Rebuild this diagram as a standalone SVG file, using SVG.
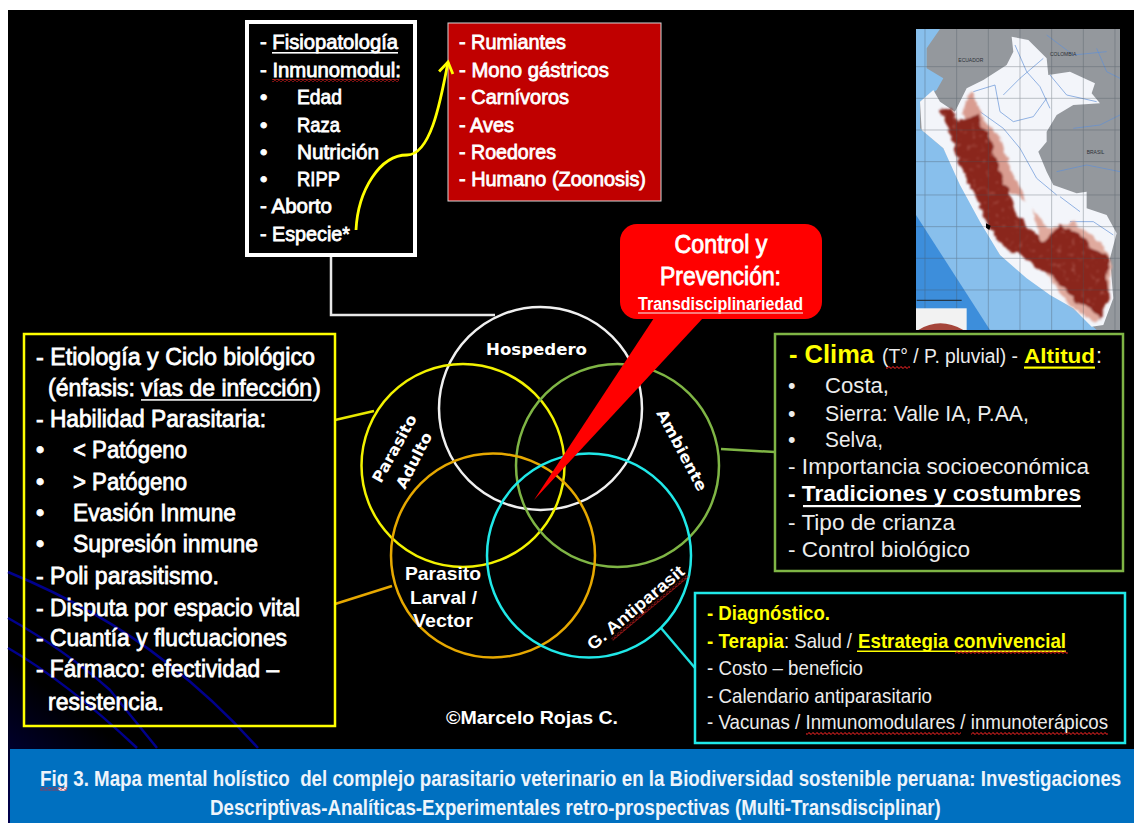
<svg xmlns="http://www.w3.org/2000/svg" width="1134" height="823" viewBox="0 0 1134 823">
<style>
text{font-family:"Liberation Sans",Arial,sans-serif;fill:#fff;font-weight:bold}
.b{font-size:21px;font-weight:normal;stroke:#fff;stroke-width:.8px}
.y{font-size:23.5px;font-weight:normal;stroke:#fff;stroke-width:.8px}
.g{font-size:21.5px;font-weight:normal;fill:#ececec}
.c{font-size:21px;font-weight:normal;fill:#ececec}
.cb{font-size:21px;fill:#ff0}
.v{font-family:"DejaVu Sans",sans-serif;font-size:15.5px}
.l{font-size:19px}
.cap{font-size:21.5px;fill:#eef4fb}
.ctl{font-size:25px;font-weight:normal;stroke:#fff;stroke-width:.8px}
.box{fill:none}
.conn{fill:none;stroke-width:2.5}
.circ{fill:none;stroke-width:2.5}
.sq{fill:url(#sq)}
.rv{fill:none;stroke:#5f8fd6;stroke-width:2}
.gr{stroke:#47525c;stroke-width:2;opacity:.5}
.mt{fill:#2c3036;font-weight:normal;font-size:15px}
</style>
<defs>
<pattern id="sq" width="4" height="3" patternUnits="userSpaceOnUse"><path d="M0,1.5 Q1,0 2,1.5 T4,1.5" fill="none" stroke="#e02020" stroke-width="1.1"/></pattern>
<marker id="ah" markerUnits="userSpaceOnUse" markerWidth="18" markerHeight="18" refX="12" refY="8" orient="auto"><path d="M1,1 L12,8 L1,15" fill="none" stroke="#ff0" stroke-width="2.8"/></marker>
<linearGradient id="bgl" x1="0" y1="1" x2="0.3" y2="0.6"><stop offset="0" stop-color="#000050"/><stop offset="1" stop-color="#000"/></linearGradient>
<filter id="bl" x="-5%" y="-5%" width="110%" height="110%"><feGaussianBlur stdDeviation="2"/></filter>
<filter id="rough" x="-5%" y="-5%" width="110%" height="110%"><feTurbulence type="fractalNoise" baseFrequency="0.035" numOctaves="2" seed="7" result="n"/><feDisplacementMap in="SourceGraphic" in2="n" scale="24" xChannelSelector="R" yChannelSelector="G"/><feGaussianBlur stdDeviation="2.5"/></filter>
<filter id="spk" x="0" y="0" width="100%" height="100%"><feTurbulence type="fractalNoise" baseFrequency="0.07" numOctaves="2" seed="4" result="n"/><feColorMatrix in="n" type="matrix" values="0 0 0 0 .78 0 0 0 0 .42 0 0 0 0 .38 3 0 0 0 -1.8"/><feComposite in2="SourceAlpha" operator="in"/><feGaussianBlur stdDeviation="2.500"/></filter>
<clipPath id="mc"><rect x="48" y="42" width="612" height="903"/></clipPath>
</defs>
<rect id="page" width="1134" height="823" fill="#fff"/>
<rect id="bg" x="8" y="10" width="1126" height="813" fill="#000"/>
<rect x="8" y="560" width="260" height="263" fill="url(#bgl)"/>
<g id="streaks" fill="none" stroke="#00008c" stroke-width="2.5">
<path d="M8,572 Q100,610 167,663 Q215,700 258,748"/>
<path d="M8,618 Q65,650 110,690 L157,748"/>
<path d="M8,648 Q67,682 137,748"/>
</g>

<g id="map" transform="translate(900,15) scale(.3333)">
<g clip-path="url(#mc)"><g filter="url(#bl)">
<rect x="48" y="42" width="612" height="903" fill="#88bfec"/>
<path d="M48,600L270,945H48Z" fill="#3e8edb"/>
<path d="M120,42H660V945H590L520,880L300,720L130,400L60,340L60,260L110,225L130,190L80,160L80,100Z" fill="#94989d"/>
<path d="M335,65L385,75L440,130L445,180L510,170L585,205L575,235L600,265L520,270L470,300L440,350L440,380L415,410L440,470L460,510L530,535L560,530L560,580L620,600L650,655L630,730L640,850L610,930L575,935L520,880L450,840L380,790L300,720L240,620L180,510L130,400L65,345L60,260L100,225L120,260L165,290L200,220L250,195L320,150L340,110Z" fill="#f3f5fa"/>
<g class="rv"><path d="M345,90L380,170L420,215L450,280"/><path d="M220,230L285,210L300,290L340,320L400,305L440,250"/><path d="M240,290L310,340L360,400L410,490L470,540"/><path d="M430,130L360,190L310,240"/><path d="M450,180L500,240L590,260"/><path d="M510,620L580,620L640,660"/><path d="M480,545L540,590"/><path d="M590,100L620,170L660,190"/><path d="M440,60L520,120L620,110"/><path d="M520,340L600,330L660,300"/><path d="M470,470L560,450L660,470"/></g>
</g>
<g filter="url(#rough)">
<path d="M185,290L215,225L240,300L300,370L335,470L380,560L300,510L240,400Z" fill="#d99c90"/>
<path d="M400,580L440,640L520,620L600,680L635,735L625,860L590,925L520,880L440,780Z" fill="#e0aa9e"/>
<path id="andes" d="M120,285L150,280L175,320L230,300L260,350L285,420L300,470L330,540L345,590L390,640L430,680L480,630L530,650L580,700L630,730L620,790L630,850L600,915L570,880L530,860L450,780L370,730L300,690L260,620L225,540L180,450L160,390L145,340Z" fill="#8a261e"/>
</g>
<path d="M130,295L150,290L175,330L225,310L255,355L280,425L295,475L325,545L340,595L385,645L430,690L480,640L530,660L575,705L620,735L610,790L620,845L598,905L570,870L530,850L450,770L375,720L305,680L265,615L230,535L185,445L165,385L150,335Z" fill="#000" filter="url(#spk)" opacity=".45"/>
<g class="gr"><path d="M48,155H660M48,250H660M48,345H660M48,440H660M48,540H660M48,635H660M48,730H660M48,825H660M75,42V945M170,42V945M265,42V945M360,42V945M455,42V945M550,42V945M645,42V945"/></g>
<path d="M258,625L272,632L268,645L258,638Z" fill="#000"/>
<rect x="48" y="880" width="152" height="65" fill="#f2f2f2"/>
<path d="M55,945Q120,905 190,945Z" fill="#a5453a"/>
<path d="M50,856H185" stroke="#222" stroke-width="3"/>
<text x="175" y="140" class="mt">ECUADOR</text>
<text x="450" y="122" class="mt">COLOMBIA</text>
<text x="560" y="418" class="mt">BRASIL</text>
</g></g>

<g id="connectors">
<path class="conn" stroke="#e8e8e8" d="M331,257V315H495"/>
<path class="conn" stroke="#e8e800" d="M335,420L374,411"/>
<path class="conn" stroke="#7fb545" d="M721,449L775,452"/>
<path class="conn" stroke="#e6a800" d="M335,604L392,586"/>
<path class="conn" stroke="#20e0e0" d="M661,628L695,668"/>
</g>

<g id="circles">
<circle id="c-hospedero" class="circ" cx="540.5" cy="408.5" r="101.5" stroke="#f0f0f0"/>
<circle id="c-adulto" class="circ" cx="463" cy="465.5" r="101.5" stroke="#f2f200"/>
<circle id="c-ambiente" class="circ" cx="617.5" cy="465.5" r="101.5" stroke="#7fb545"/>
<circle id="c-larval" class="circ" cx="493" cy="555.5" r="102" stroke="#e6a800"/>
<circle id="c-antip" class="circ" cx="589" cy="555.5" r="102" stroke="#20e8e8"/>
</g>

<g id="node-fisio">
<rect class="box" x="247" y="22" width="168" height="233" stroke="#fff" stroke-width="4"/>
<text class="b" x="260" y="49" textLength="138" lengthAdjust="spacingAndGlyphs">- Fisiopatología</text>
<rect x="272" y="52" width="126" height="1.6" fill="#fff"/>
<text class="b" x="260" y="77" textLength="141" lengthAdjust="spacingAndGlyphs">- Inmunomodul:</text>
<rect class="sq" x="272" y="79" width="127" height="3"/>
<text class="b" x="260" y="104">•</text><text class="b" x="297" y="104" textLength="45" lengthAdjust="spacingAndGlyphs">Edad</text>
<text class="b" x="260" y="132">•</text><text class="b" x="297" y="132" textLength="43" lengthAdjust="spacingAndGlyphs">Raza</text>
<text class="b" x="260" y="159">•</text><text class="b" x="297" y="159" textLength="82" lengthAdjust="spacingAndGlyphs">Nutrición</text>
<text class="b" x="260" y="186">•</text><text class="b" x="297" y="186" textLength="43" lengthAdjust="spacingAndGlyphs">RIPP</text>
<text class="b" x="260" y="213" textLength="72" lengthAdjust="spacingAndGlyphs">- Aborto</text>
<text class="b" x="260" y="241" textLength="90" lengthAdjust="spacingAndGlyphs">- Especie*</text>
</g>

<g id="node-especies">
<rect x="448" y="23" width="213" height="178" fill="#c00000" stroke="#d8d8d8" stroke-width="1"/>
<text class="b" x="459" y="49" textLength="107" lengthAdjust="spacingAndGlyphs">- Rumiantes</text>
<text class="b" x="459" y="77" textLength="150" lengthAdjust="spacingAndGlyphs">- Mono gástricos</text>
<text class="b" x="459" y="104" textLength="110" lengthAdjust="spacingAndGlyphs">- Carnívoros</text>
<text class="b" x="459" y="132" textLength="55" lengthAdjust="spacingAndGlyphs">- Aves</text>
<text class="b" x="459" y="159" textLength="97" lengthAdjust="spacingAndGlyphs">- Roedores</text>
<text class="b" x="459" y="186" textLength="187" lengthAdjust="spacingAndGlyphs">- Humano (Zoonosis)</text>
</g>

<path id="arrow-especie" fill="none" stroke="#ff0" stroke-width="2.8" marker-end="url(#ah)" d="M356,230C358,190 380,155 407,155C430,155 440,105 448,62"/>

<g id="node-etiologia">
<rect class="box" x="24" y="334" width="311" height="392" stroke="#ff0" stroke-width="2.5"/>
<text class="y" x="36" y="365" textLength="279" lengthAdjust="spacingAndGlyphs">- Etiología y Ciclo biológico</text>
<text class="y" x="48" y="396" textLength="87" lengthAdjust="spacingAndGlyphs">(énfasis:</text><text class="y" transform="translate(141,396) scale(.9,1)" textLength="190" lengthAdjust="spacingAndGlyphs">vías de infección</text><text class="y" x="313" y="396">)</text>
<rect x="141" y="399" width="171" height="1.8" fill="#ddd"/>
<text class="y" x="36" y="427" textLength="230" lengthAdjust="spacingAndGlyphs">- Habilidad Parasitaria:</text>
<text class="y" x="36" y="458">•</text><text class="y" x="73" y="458" textLength="114" lengthAdjust="spacingAndGlyphs">&lt; Patógeno</text>
<text class="y" x="36" y="490">•</text><text class="y" x="73" y="490" textLength="114" lengthAdjust="spacingAndGlyphs">&gt; Patógeno</text>
<text class="y" x="36" y="521">•</text><text class="y" x="73" y="521" textLength="163" lengthAdjust="spacingAndGlyphs">Evasión Inmune</text>
<text class="y" x="36" y="552">•</text><text class="y" x="73" y="552" textLength="185" lengthAdjust="spacingAndGlyphs">Supresión inmune</text>
<text class="y" x="36" y="584" textLength="183" lengthAdjust="spacingAndGlyphs">- Poli parasitismo.</text>
<text class="y" x="36" y="616" textLength="264" lengthAdjust="spacingAndGlyphs">- Disputa por espacio vital</text>
<text class="y" x="36" y="646" textLength="251" lengthAdjust="spacingAndGlyphs">- Cuantía y fluctuaciones</text>
<text class="y" x="36" y="677" textLength="243" lengthAdjust="spacingAndGlyphs">- Fármaco: efectividad –</text>
<text class="y" x="48" y="710" textLength="116" lengthAdjust="spacingAndGlyphs">resistencia.</text>
</g>

<g id="node-clima">
<rect x="775" y="334" width="348" height="237" fill="#000" stroke="#7fb545" stroke-width="2.5"/>
<text x="789" y="363" font-size="25" textLength="85" lengthAdjust="spacingAndGlyphs" style="fill:#ff0">- Clima</text>
<text class="g" x="882" y="363" textLength="136" lengthAdjust="spacingAndGlyphs" style="font-size:20px">(T° / P. pluvial) -</text>
<rect class="sq" x="886" y="366" width="24" height="3"/>
<text x="1024" y="363" font-size="21" textLength="71" lengthAdjust="spacingAndGlyphs" style="fill:#ff0">Altitud</text>
<rect x="1024" y="366.500" width="71" height="2.200" fill="#ff0"/>
<text class="g" x="1096" y="363">:</text>
<text class="g" x="788" y="393">•</text><text class="g" x="825" y="393" textLength="64" lengthAdjust="spacingAndGlyphs">Costa,</text>
<text class="g" x="788" y="421">•</text><text class="g" x="825" y="421" textLength="204" lengthAdjust="spacingAndGlyphs">Sierra: Valle IA, P.AA,</text>
<text class="g" x="788" y="447">•</text><text class="g" x="825" y="447" textLength="58" lengthAdjust="spacingAndGlyphs">Selva,</text>
<text class="g" x="788" y="474" textLength="301" lengthAdjust="spacingAndGlyphs">- Importancia socioeconómica</text>
<text x="788" y="501" font-size="21.5" textLength="293" lengthAdjust="spacingAndGlyphs">- Tradiciones y costumbres</text>
<rect x="803" y="505" width="278" height="2.200" fill="#fff"/>
<text class="g" x="788" y="530" textLength="167" lengthAdjust="spacingAndGlyphs">- Tipo de crianza</text>
<text class="g" x="788" y="557" textLength="182" lengthAdjust="spacingAndGlyphs">- Control biológico</text>
</g>

<g id="node-diagnostico">
<rect x="695" y="593" width="430" height="150" fill="#000" stroke="#20e8e8" stroke-width="2.5"/>
<text class="cb" transform="translate(707,620) scale(.85,1)" textLength="144.700" lengthAdjust="spacingAndGlyphs">- Diagnóstico.</text>
<text class="cb" transform="translate(707,648) scale(.85,1)" textLength="90.600" lengthAdjust="spacingAndGlyphs">- Terapia</text>
<text class="c" transform="translate(784,648) scale(.85,1)" textLength="80" lengthAdjust="spacingAndGlyphs">: Salud /</text>
<text class="cb" transform="translate(858,648) scale(.85,1)" textLength="244.700" lengthAdjust="spacingAndGlyphs">Estrategia convivencial</text>
<rect x="857" y="650.500" width="209" height="1.500" fill="#ff0"/>
<rect class="sq" x="955" y="651" width="113" height="3"/>
<text class="c" transform="translate(707,675) scale(.85,1)" textLength="183.500" lengthAdjust="spacingAndGlyphs">- Costo – beneficio</text>
<text class="c" transform="translate(707,703) scale(.85,1)" textLength="264.700" lengthAdjust="spacingAndGlyphs">- Calendario antiparasitario</text>
<text class="c" transform="translate(707,729) scale(.85,1)" textLength="471.800" lengthAdjust="spacingAndGlyphs">- Vacunas / Inmunomodulares / inmunoterápicos</text>
<rect class="sq" x="806" y="732" width="155" height="3"/>
<rect class="sq" x="971" y="732" width="137" height="3"/>
</g>

<g id="node-control">
<path fill="#f00" d="M654,318L534,500L703,318Z"/>
<rect x="620" y="224" width="202" height="95" rx="17" fill="#f00"/>
<text class="ctl" x="721" y="253" text-anchor="middle" textLength="93" lengthAdjust="spacingAndGlyphs">Control y</text>
<text class="ctl" x="720.500" y="285" text-anchor="middle" textLength="121" lengthAdjust="spacingAndGlyphs">Prevención:</text>
<text x="720.500" y="310" text-anchor="middle" font-size="18" textLength="165" lengthAdjust="spacingAndGlyphs">Transdisciplinariedad</text>
<rect x="638" y="312" width="165" height="2" fill="#f6b0b0" opacity=".7"/>
</g>

<g id="labels">
<text id="t-hospedero" class="v" x="536.500" y="355" text-anchor="middle" textLength="101" lengthAdjust="spacingAndGlyphs">Hospedero</text>
<text id="t-par-adulto" class="v" transform="translate(381,484) rotate(-61)" textLength="75" lengthAdjust="spacingAndGlyphs">Parasito</text>
<text id="t-adulto" class="v" transform="translate(405,490) rotate(-63)" textLength="61" lengthAdjust="spacingAndGlyphs">Adulto</text>
<text id="t-ambiente" class="v" transform="translate(656,413) rotate(62)" textLength="90" lengthAdjust="spacingAndGlyphs">Ambiente</text>
<text id="t-l1" class="l" x="443" y="580" text-anchor="middle" textLength="76" lengthAdjust="spacingAndGlyphs">Parasito</text>
<text id="t-l2" class="l" x="443.500" y="604" text-anchor="middle" textLength="67" lengthAdjust="spacingAndGlyphs">Larval /</text>
<text id="t-l3" class="l" x="443" y="627" text-anchor="middle" textLength="60" lengthAdjust="spacingAndGlyphs">Vector</text>
<g id="t-antip" transform="translate(593,651) rotate(-40)"><text font-size="17" textLength="121" lengthAdjust="spacingAndGlyphs">G. Antiparasit</text><rect class="sq" x="22" y="2" width="99" height="3"/></g>
<text id="t-copy" x="446" y="724" font-size="18" textLength="172" lengthAdjust="spacingAndGlyphs">©Marcelo Rojas C.</text>
</g>

<g id="caption">
<rect x="10" y="749" width="1124" height="74" fill="#0070c0"/>
<text class="cap" transform="translate(40,786) scale(.872,1)" textLength="1240" lengthAdjust="spacingAndGlyphs" xml:space="preserve">Fig 3. Mapa mental holístico  del complejo parasitario veterinario en la Biodiversidad sostenible peruana: Investigaciones</text>
<rect class="sq" x="40" y="787.500" width="27" height="3"/>
<text class="cap" transform="translate(210,815) scale(.872,1)" textLength="838" lengthAdjust="spacingAndGlyphs">Descriptivas-Analíticas-Experimentales retro-prospectivas (Multi-Transdisciplinar)</text>
</g>
</svg>
